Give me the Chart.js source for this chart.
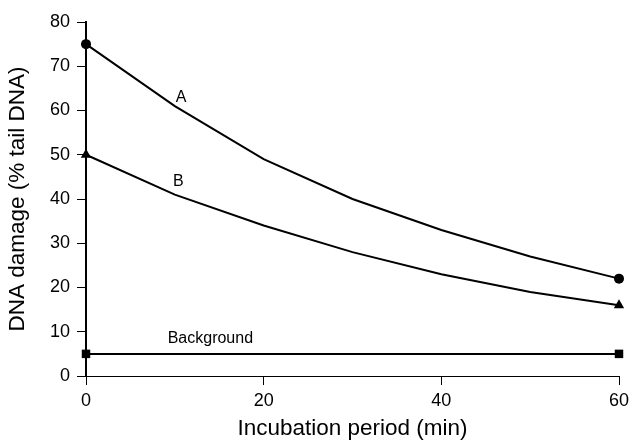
<!DOCTYPE html>
<html><head><meta charset="utf-8">
<script src="https://cdn.jsdelivr.net/npm/chart.js@4/dist/chart.umd.min.js"></script>
<style>html,body{margin:0;padding:0;background:#fff}#wrap{width:632px;height:442px}</style>
</head><body><div id="wrap"><canvas id="c" width="632" height="442"></canvas></div>
<script>
const times = [0, 10, 20, 30, 40, 50, 60];
const seriesA = [75, 61, 49, 40, 33, 27, 22];
const seriesB = [50, 41, 34, 28, 23, 19, 16];
const background = [5, 5, 5, 5, 5, 5, 5];
const xTicks = [0, 20, 40, 60];
const yTicks = [0, 10, 20, 30, 40, 50, 60, 70, 80];
const curveLabels = [
  {text: 'A', x: 10.7, y: 63.0},
  {text: 'B', x: 10.4, y: 44.0},
  {text: 'Background', x: 14, y: 8.35}
];
const toPts = arr => times.map((t, i) => ({x: t, y: arr[i]}));
const endR = (r) => times.map((t, i) => (i === 0 || i === times.length - 1) ? r : 0);
const FONT = "'Liberation Sans', Arial, sans-serif";

const labelPlugin = {
  id: 'curveLabels',
  afterDatasetsDraw(chart) {
    const {ctx, scales} = chart;
    ctx.save();
    ctx.fillStyle = '#000';
    ctx.font = '16px ' + FONT;
    ctx.textAlign = 'center';
    ctx.textBaseline = 'middle';
    curveLabels.forEach(l => ctx.fillText(l.text, scales.x.getPixelForValue(l.x), scales.y.getPixelForValue(l.y)));
    ctx.restore();
  }
};

const ds = (data, style, r) => ({
  data: toPts(data), borderColor: '#000', backgroundColor: '#000', borderWidth: 2,
  pointStyle: style, pointRadius: endR(r), pointHoverRadius: endR(r), pointBorderWidth: 0,
  tension: 0, clip: false
});

new Chart(document.getElementById('c'), {
  type: 'line',
  data: { datasets: [ds(seriesA, 'circle', 5), ds(seriesB, 'triangle', 6), ds(background, 'rect', 6)] },
  options: {
    responsive: false, animation: false,
    layout: {padding: {left: 0, right: 0, top: 22, bottom: 0}},
    plugins: {legend: {display: false}, tooltip: {enabled: false}},
    scales: {
      x: {
        type: 'linear', min: 0, max: 60,
        afterBuildTicks: s => { s.ticks = xTicks.map(v => ({value: v})); },
        afterFit: s => { s.height = 66; s.paddingRight = 13; s.paddingLeft = 0; },
        grid: {display: true, drawOnChartArea: false, drawTicks: true, tickLength: 9, color: '#000', lineWidth: 1},
        border: {display: true, color: '#000', width: 1},
        ticks: {color: '#000', font: {family: FONT, size: 18}, padding: 5, maxRotation: 0},
        title: {display: true, text: 'Incubation period (min)', color: '#000', font: {family: FONT, size: 22.5}, padding: {top: 0, bottom: 0}}
      },
      y: {
        type: 'linear', min: 0, max: 80,
        afterBuildTicks: s => { s.ticks = yTicks.map(v => ({value: v})); },
        afterFit: s => { s.width = 86; },
        grid: {display: true, drawOnChartArea: false, drawTicks: true, tickLength: 9, color: '#000', lineWidth: 1},
        border: {display: true, color: '#000', width: 2},
        ticks: {color: '#000', font: {family: FONT, size: 18}, padding: 7},
        title: {display: true, text: 'DNA damage (% tail DNA)', color: '#000', font: {family: FONT, size: 22.5}, padding: {top: 4, bottom: 0}}
      }
    }
  },
  plugins: [labelPlugin]
});
</script></body></html>
